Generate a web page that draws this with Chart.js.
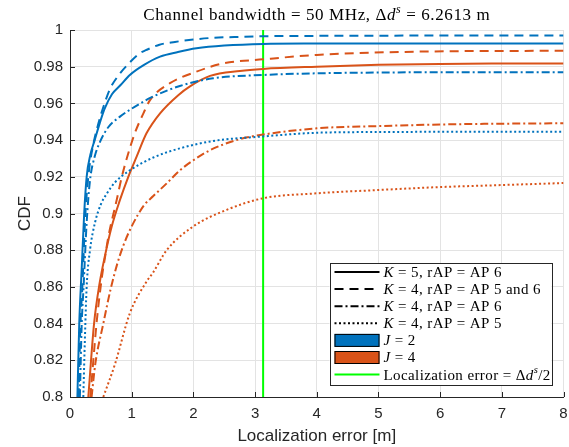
<!DOCTYPE html>
<html>
<head>
<meta charset="utf-8">
<script src="https://cdn.jsdelivr.net/npm/chart.js@4.4.1/dist/chart.umd.min.js"></script>
<style>
  html, body { margin: 0; padding: 0; background: #fff; }
  #wrap { width: 569px; height: 447px; position: relative; }
</style>
</head>
<body>
<div id="wrap"><canvas id="cdf"></canvas></div>
<script>
// axis ticks
var xTicks = [0, 1, 2, 3, 4, 5, 6, 7, 8];
var yTicks = [0.8, 0.82, 0.84, 0.86, 0.88, 0.9, 0.92, 0.94, 0.96, 0.98, 1];

// J = 2 (blue)
var xJ2K5 = [0.12, 0.15, 0.19, 0.23, 0.27, 0.33, 0.40, 0.48, 0.56, 0.68, 0.82, 0.97, 1.2, 1.46, 1.75, 2.05, 2.5, 3.13, 4, 5, 6, 7, 8];
var yJ2K5 = [0.80, 0.84, 0.87, 0.90, 0.92, 0.932, 0.940, 0.949, 0.957, 0.965, 0.970, 0.9755, 0.981, 0.9855, 0.988, 0.990, 0.9915, 0.9924, 0.9926, 0.9927, 0.9927, 0.9927, 0.9927];
var xJ2K4ap56 = [0.14, 0.17, 0.20, 0.25, 0.31, 0.38, 0.46, 0.55, 0.65, 0.78, 0.96, 1.13, 1.23, 1.45, 1.7, 2.0, 2.3, 2.8, 3.13, 4, 5, 6, 7, 8];
var yJ2K4ap56 = [0.80, 0.84, 0.86, 0.90, 0.924, 0.938, 0.949, 0.959, 0.968, 0.975, 0.982, 0.9873, 0.989, 0.992, 0.9935, 0.9948, 0.9957, 0.9963, 0.9966, 0.9968, 0.9969, 0.997, 0.997, 0.997];
var xJ2K4ap6 = [0.16, 0.19, 0.22, 0.27, 0.324, 0.40, 0.486, 0.62, 0.81, 0.97, 1.19, 1.3, 1.78, 2.32, 3.13, 4, 5, 6, 7, 8];
var yJ2K4ap6 = [0.80, 0.84, 0.86, 0.895, 0.918, 0.931, 0.939, 0.947, 0.9528, 0.9565, 0.961, 0.963, 0.9695, 0.9737, 0.9755, 0.9764, 0.9768, 0.977, 0.977, 0.977];
var xJ2K4ap5 = [0.216, 0.24, 0.27, 0.324, 0.405, 0.5, 0.6, 0.73, 0.97, 1.35, 1.78, 2.32, 3.13, 4, 5, 6, 7, 8];
var yJ2K4ap5 = [0.80, 0.83, 0.86, 0.88, 0.895, 0.905, 0.911, 0.917, 0.9235, 0.9305, 0.9355, 0.9395, 0.942, 0.944, 0.9444, 0.9445, 0.9445, 0.9445];

// J = 4 (orange)
var xJ4K5 = [0.297, 0.39, 0.48, 0.567, 0.675, 0.81, 0.945, 1.08, 1.24, 1.46, 1.755, 1.945, 2.27, 2.755, 3.13, 4, 5, 6, 7, 8];
var yJ4K5 = [0.80, 0.84, 0.862, 0.877, 0.8928, 0.9074, 0.92, 0.931, 0.9437, 0.9546, 0.9645, 0.9693, 0.975, 0.9777, 0.9788, 0.980, 0.981, 0.9815, 0.9817, 0.9818];
var xJ4K4ap56 = [0.33, 0.43, 0.52, 0.567, 0.62, 0.757, 0.84, 0.945, 1.05, 1.19, 1.3, 1.62, 2.05, 2.48, 3.13, 4, 5.62, 8];
var yJ4K4ap56 = [0.80, 0.84, 0.866, 0.876, 0.887, 0.9074, 0.92, 0.9328, 0.9437, 0.9546, 0.9619, 0.971, 0.9773, 0.9818, 0.984, 0.9864, 0.9882, 0.9887];
var xJ4K4ap6 = [0.35, 0.41, 0.54, 0.66, 0.77, 0.87, 1.0, 1.2, 1.35, 1.57, 1.78, 2.0, 2.27, 2.75, 3.13, 4, 5.08, 6.16, 8];
var yJ4K4ap6 = [0.80, 0.818, 0.840, 0.859, 0.873, 0.883, 0.893, 0.9045, 0.9095, 0.9165, 0.9235, 0.929, 0.9345, 0.9405, 0.943, 0.9464, 0.9477, 0.9486, 0.9492];
var xJ4K4ap5 = [0.54, 0.73, 0.97, 1.243, 1.35, 1.567, 2.0, 2.54, 3.13, 4, 5, 6, 7, 8];
var yJ4K4ap5 = [0.80, 0.818, 0.8456, 0.863, 0.868, 0.880, 0.893, 0.902, 0.9083, 0.911, 0.9128, 0.9144, 0.9155, 0.9166];

// half of the range resolution
var deltaDs = 6.2613;
var xHalf = [deltaDs / 2, deltaDs / 2];
var yHalf = [0.8, 1];

var blue = '#0072BD';
var orange = '#D95319';
var green = '#00FF00';
var axisColor = '#262626';

var solid = [];
var dashed = [9, 6];
var dashDot = [8, 3, 2, 3];
var dotted = [2, 2.5];

function pts(xs, ys) {
    var out = [];
    for (var i = 0; i < xs.length; i++) {
        out.push({x: xs[i], y: ys[i]});
    }
    return out;
}

function curve(xs, ys, color, dash) {
    return {
        data: pts(xs, ys),
        borderColor: color,
        borderWidth: 2,
        borderDash: dash,
        pointRadius: 0,
        fill: false,
        cubicInterpolationMode: 'monotone'
    };
}

var datasets = [
    curve(xJ2K5, yJ2K5, blue, solid),
    curve(xJ2K4ap56, yJ2K4ap56, blue, dashed),
    curve(xJ2K4ap6, yJ2K4ap6, blue, dashDot),
    curve(xJ2K4ap5, yJ2K4ap5, blue, dotted),
    curve(xJ4K5, yJ4K5, orange, solid),
    curve(xJ4K4ap56, yJ4K4ap56, orange, dashed),
    curve(xJ4K4ap6, yJ4K4ap6, orange, dashDot),
    curve(xJ4K4ap5, yJ4K4ap5, orange, dotted),
    {
        data: pts(xHalf, yHalf),
        borderColor: green,
        borderWidth: 2,
        pointRadius: 0,
        fill: false
    }
];

var serif = "'Liberation Serif', 'Times New Roman', serif";
var sans = "'Liberation Sans', Arial, sans-serif";

// draws a run of text pieces [text, italic, superscript]
function drawRich(ctx, parts, x, y, size) {
    var w = 0;
    for (var i = 0; i < parts.length; i++) {
        var p = parts[i];
        var fs = p[2] ? size * 0.7 : size;
        ctx.font = (p[1] ? 'italic ' : '') + fs + 'px ' + serif;
        ctx.fillText(p[0], x + w, p[2] ? y - size * 0.35 : y);
        w += ctx.measureText(p[0]).width;
    }
    return w;
}

function richWidth(ctx, parts, size) {
    var w = 0;
    for (var i = 0; i < parts.length; i++) {
        var p = parts[i];
        var fs = p[2] ? size * 0.7 : size;
        ctx.font = (p[1] ? 'italic ' : '') + fs + 'px ' + serif;
        w += ctx.measureText(p[0]).width;
    }
    return w;
}

var titleParts = [['Channel bandwidth = 50 MHz, \u0394'], ['d', 1], ['s', 1, 1], [' = 6.2613 m']];

var legendRows = [
    {kind: 'line', color: '#000', dash: solid, parts: [['K', 1], [' = 5, rAP = AP 6']]},
    {kind: 'line', color: '#000', dash: dashed, parts: [['K', 1], [' = 4, rAP = AP 5 and 6']]},
    {kind: 'line', color: '#000', dash: dashDot, parts: [['K', 1], [' = 4, rAP = AP 6']]},
    {kind: 'line', color: '#000', dash: dotted, parts: [['K', 1], [' = 4, rAP = AP 5']]},
    {kind: 'box', color: blue, parts: [['J', 1], [' = 2']]},
    {kind: 'box', color: orange, parts: [['J', 1], [' = 4']]},
    {kind: 'line', color: green, dash: solid, parts: [['Localization error = \u0394'], ['d', 1], ['s', 1, 1], ['/2']]}
];

var decor = {
    id: 'decor',
    afterDraw: function (chart) {
        var ctx = chart.ctx;
        var a = chart.chartArea;
        var xs = chart.scales.x, ys = chart.scales.y;
        ctx.save();

        // inward tick marks
        ctx.strokeStyle = axisColor;
        ctx.lineWidth = 1;
        ctx.setLineDash([]);
        ctx.beginPath();
        for (var i = 0; i < yTicks.length; i++) {
            var py = Math.round(ys.getPixelForValue(yTicks[i])) + 0.5;
            ctx.moveTo(a.left, py);
            ctx.lineTo(a.left + 5, py);
        }
        for (var j = 0; j < xTicks.length; j++) {
            var px = Math.round(xs.getPixelForValue(xTicks[j])) + 0.5;
            ctx.moveTo(px, a.bottom);
            ctx.lineTo(px, a.bottom - 5);
        }
        ctx.stroke();

        // title
        ctx.fillStyle = '#000';
        ctx.textBaseline = 'middle';
        ctx.letterSpacing = '0.6px';
        var ts = 17;
        var tw = richWidth(ctx, titleParts, ts);
        drawRich(ctx, titleParts, (a.left + a.right) / 2 - tw / 2, 16, ts);

        // legend
        var lx = a.right - 234, ly = a.bottom - 134;
        var lw = 222, lh = 122;
        ctx.letterSpacing = '0px';
        ctx.fillStyle = '#fff';
        ctx.fillRect(lx, ly, lw, lh);
        ctx.strokeStyle = axisColor;
        ctx.lineWidth = 1;
        ctx.strokeRect(Math.round(lx) + 0.5, Math.round(ly) + 0.5, lw, lh);
        for (var k = 0; k < legendRows.length; k++) {
            var r = legendRows[k];
            var cy = ly + 9 + k * 17.1;
            if (r.kind === 'line') {
                ctx.strokeStyle = r.color;
                ctx.lineWidth = 2;
                ctx.setLineDash(r.dash);
                ctx.beginPath();
                ctx.moveTo(lx + 5, cy);
                ctx.lineTo(lx + 50, cy);
                ctx.stroke();
                ctx.setLineDash([]);
            } else {
                ctx.fillStyle = r.color;
                ctx.fillRect(lx + 5, cy - 6.5, 45, 13);
                ctx.strokeStyle = '#000';
                ctx.lineWidth = 1;
                ctx.strokeRect(lx + 5.5, cy - 6, 44, 12);
            }
            ctx.fillStyle = '#000';
            ctx.letterSpacing = '0.4px';
            drawRich(ctx, r.parts, lx + 54, cy + 1, 15);
            ctx.letterSpacing = '0px';
        }
        ctx.restore();
    }
};

var ctx = document.getElementById('cdf');
var chart = new Chart(ctx, {
    type: 'line',
    data: {datasets: datasets},
    options: {
        responsive: true,
        maintainAspectRatio: false,
        animation: false,
        events: [],
        layout: {padding: {top: 30, right: 5.5, left: 0, bottom: 0}},
        plugins: {
            legend: {display: false},
            title: {display: false},
            tooltip: {enabled: false}
        },
        scales: {
            x: {
                type: 'linear',
                min: 0,
                max: 8,
                afterFit: function (scale) {
                    scale.height = 50;
                    scale.paddingLeft = 0;
                    scale.paddingRight = 0;
                },
                afterBuildTicks: function (scale) {
                    scale.ticks = xTicks.map(function (v) { return {value: v}; });
                },
                ticks: {
                    color: axisColor,
                    font: {family: sans, size: 15},
                    padding: 8,
                    maxRotation: 0,
                    callback: function (v) { return String(v); }
                },
                grid: {color: '#e3e3e3', drawTicks: false},
                border: {color: axisColor, width: 1},
                title: {
                    display: true,
                    text: 'Localization error [m]',
                    color: axisColor,
                    font: {family: sans, size: 17},
                    padding: {top: 0, bottom: 0}
                }
            },
            y: {
                type: 'linear',
                min: 0.8,
                max: 1,
                afterFit: function (scale) {
                    scale.width = 70;
                    scale.paddingTop = 0;
                    scale.paddingBottom = 0;
                },
                afterBuildTicks: function (scale) {
                    scale.ticks = yTicks.map(function (v) { return {value: v}; });
                },
                ticks: {
                    color: axisColor,
                    font: {family: sans, size: 15},
                    padding: 7,
                    callback: function (v) { return String(Number(v.toFixed(2))); }
                },
                grid: {color: '#e3e3e3', drawTicks: false},
                border: {color: axisColor, width: 1},
                title: {
                    display: true,
                    text: 'CDF',
                    color: axisColor,
                    font: {family: sans, size: 17},
                    padding: {top: 15, bottom: 0}
                }
            }
        }
    },
    plugins: [decor]
});
</script>
</body>
</html>
